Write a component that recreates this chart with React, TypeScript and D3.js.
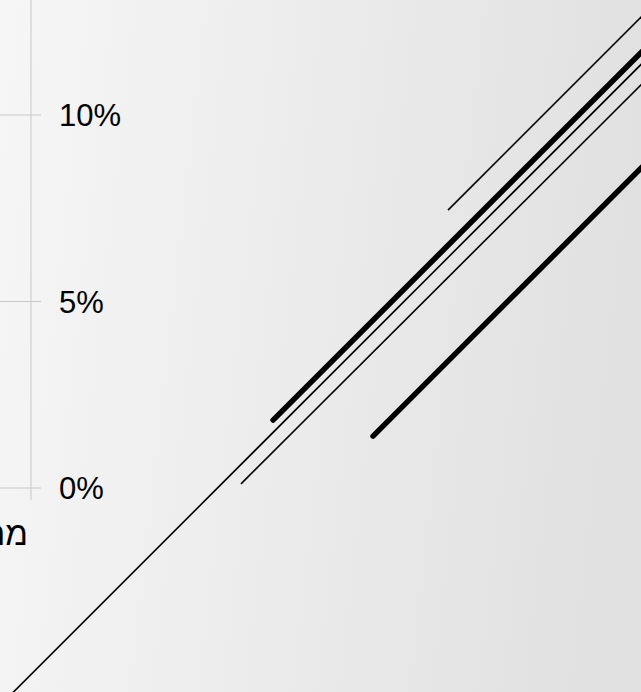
import React from "react";
import * as d3 from "d3";

const W = 641;
const H = 692;

// y axis ticks (percent)
const yTicks = [0, 5, 10];
const yTickLabels = ["0%", "5%", "10%"];

// x-axis label (clipped, right-to-left)
const xLabel = "מחירים";

// line segments (x in period units, y in percent)
const seriesNames = ["a", "b", "c", "d", "e"];
const startX = [11.18, 6.49, -1.5, 5.63, 9.17];
const startY = [7.45, 1.82, -6.5, 0.11, 1.39];
const endX = [17.5, 17.5, 17.5, 17.5, 17.5];
const endY = [13.77, 12.82, 12.5, 11.95, 9.72];

const seriesWeight: Record<string, number> = { a: 1.6, b: 5.5, c: 1.6, d: 1.6, e: 5.5 };

export default function App() {
  const x = d3.scaleLinear().domain([0, 10]).range([31, 404]);
  const y = d3.scaleLinear().domain([0, 10]).range([488, 115]);
  const line = d3
    .line<[number, number]>()
    .x((d) => x(d[0]))
    .y((d) => y(d[1]));

  const font = "Arial, 'Liberation Sans', Helvetica, sans-serif";

  return (
    <svg
      width={W}
      height={H}
      style={{ position: "fixed", left: 0, top: 0, display: "block" }}
    >
      <defs>
        <linearGradient id="bg" x1="0" y1="0" x2="1" y2="0.12">
          <stop offset="0" stopColor="#f6f6f6" />
          <stop offset="1" stopColor="#e1e1e1" />
        </linearGradient>
      </defs>
      <rect x={0} y={0} width={W} height={H} fill="url(#bg)" />

      {/* vertical axis line */}
      <line x1={x(0)} x2={x(0)} y1={-10} y2={y(0) + 12} stroke="#c8c8c8" strokeWidth={1} />

      {/* gridlines + ticks */}
      {yTicks.map((t, i) => (
        <g key={t}>
          <line x1={-10} x2={x(0) + 10} y1={y(t)} y2={y(t)} stroke="#c8c8c8" strokeWidth={1} />
          <text
            x={59}
            y={y(t)}
            dy="0.36em"
            fontFamily={font}
            fontSize={31}
            fill="#000"
          >
            {yTickLabels[i]}
          </text>
        </g>
      ))}

      <text
        x={28}
        y={545}
        textAnchor="end"
        fontFamily={font}
        fontSize={33}
        fill="#000"
      >
        {xLabel}
      </text>

      {seriesNames.map((n, i) => (
        <path
          key={n}
          d={line([
            [startX[i], startY[i]],
            [endX[i], endY[i]],
          ]) || ""}
          fill="none"
          stroke="#000"
          strokeWidth={seriesWeight[n]}
          strokeLinecap={seriesWeight[n] > 3 ? "round" : "butt"}
        />
      ))}
    </svg>
  );
}
